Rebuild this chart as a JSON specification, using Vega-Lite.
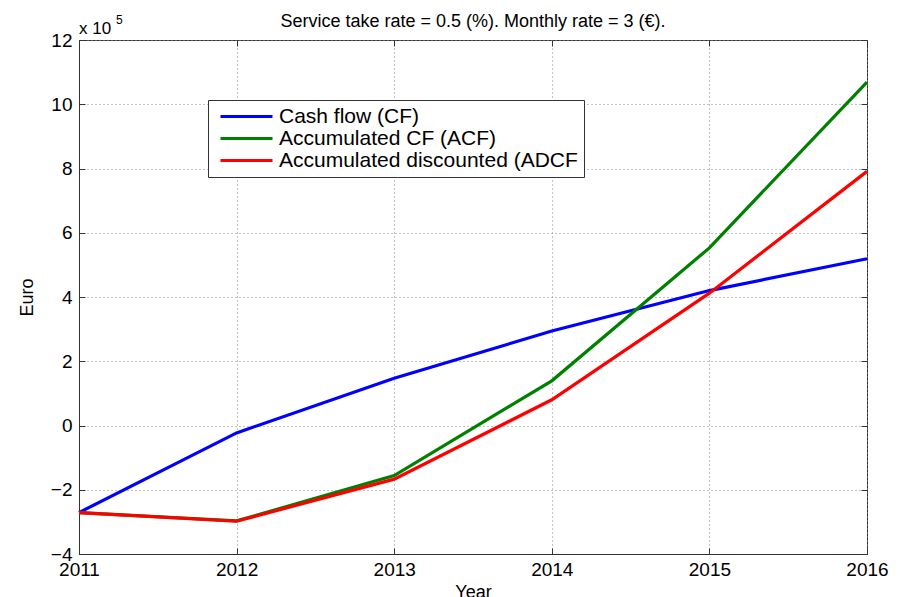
{
  "$schema": "https://vega.github.io/schema/vega-lite/v6.json",
  "width": 788,
  "height": 514,
  "autosize": {"type": "none"},
  "padding": {"left": 79, "top": 40, "right": 33, "bottom": 43},
  "background": "white",
  "config": {"view": {"stroke": "#333", "strokeWidth": 1}, "font": "Liberation Sans"},
  "title": {"text": "Service take rate = 0.5 (%). Monthly rate = 3 (€).", "fontSize": 18, "fontWeight": "normal", "font": "Liberation Sans", "color": "black", "anchor": "middle", "baseline": "alphabetic", "offset": 13, "dy": 44},
  "data": {"values": [
    {"year": 2011, "series": "Cash flow (CF)", "value": -2.71},
    {"year": 2012, "series": "Cash flow (CF)", "value": -0.23},
    {"year": 2013, "series": "Cash flow (CF)", "value": 1.47},
    {"year": 2014, "series": "Cash flow (CF)", "value": 2.94},
    {"year": 2015, "series": "Cash flow (CF)", "value": 4.2},
    {"year": 2016, "series": "Cash flow (CF)", "value": 5.19},
    {"year": 2011, "series": "Accumulated CF (ACF)", "value": -2.71},
    {"year": 2012, "series": "Accumulated CF (ACF)", "value": -2.97},
    {"year": 2013, "series": "Accumulated CF (ACF)", "value": -1.56},
    {"year": 2014, "series": "Accumulated CF (ACF)", "value": 1.39},
    {"year": 2015, "series": "Accumulated CF (ACF)", "value": 5.53},
    {"year": 2016, "series": "Accumulated CF (ACF)", "value": 10.69},
    {"year": 2011, "series": "Accumulated discounted (ADCF", "value": -2.71},
    {"year": 2012, "series": "Accumulated discounted (ADCF", "value": -2.98},
    {"year": 2013, "series": "Accumulated discounted (ADCF", "value": -1.67},
    {"year": 2014, "series": "Accumulated discounted (ADCF", "value": 0.8},
    {"year": 2015, "series": "Accumulated discounted (ADCF", "value": 4.12},
    {"year": 2016, "series": "Accumulated discounted (ADCF", "value": 7.91}
  ]},
  "layer": [
    {
      "mark": {"type": "line", "strokeWidth": 3.2},
      "encoding": {
        "x": {"field": "year", "type": "quantitative", "scale": {"domain": [2011, 2016], "nice": false, "zero": false},
          "axis": {"title": "Year", "values": [2011, 2012, 2013, 2014, 2015, 2016], "format": "d", "ticks": false, "grid": true, "gridDash": [1, 3], "gridColor": "#888", "gridOpacity": 1, "domainColor": "#333", "labelFontSize": 19, "labelColor": "black", "labelPadding": 6, "labelFlush": false, "titleFontSize": 18, "titleFontWeight": "normal", "titleColor": "black", "titlePadding": 4}},
        "y": {"field": "value", "type": "quantitative", "scale": {"domain": [-4, 12], "nice": false, "zero": false},
          "axis": {"title": "Euro", "values": [-4, -2, 0, 2, 4, 6, 8, 10, 12], "ticks": false, "grid": true, "gridDash": [1, 3], "gridColor": "#888", "gridOpacity": 1, "domainColor": "#333", "labelFontSize": 19, "labelColor": "black", "labelPadding": 7, "labelFlush": false, "titleFontSize": 18, "titleFontWeight": "normal", "titleColor": "black", "titlePadding": 14}},
        "color": {"field": "series", "type": "nominal",
          "scale": {"domain": ["Cash flow (CF)", "Accumulated CF (ACF)", "Accumulated discounted (ADCF"], "range": ["#0000ff", "#008000", "#ff0000"]},
          "legend": {"orient": "none", "legendX": 129, "legendY": 60, "title": null, "symbolType": "M-4,0H4", "symbolSize": 169, "symbolStrokeWidth": 3, "symbolOffset": 22, "labelOffset": 22, "labelFontSize": 21, "labelFont": "Liberation Sans", "labelColor": "black", "padding": 6, "fillColor": "white", "strokeColor": "#333", "rowPadding": 0, "labelLimit": 400}}
      }
    },
    {
      "data": {"values": [{"label": "x 10"}]},
      "mark": {"type": "text", "fontSize": 17, "align": "left", "baseline": "alphabetic", "dy": -6, "color": "black"},
      "encoding": {"text": {"field": "label"}, "x": {"datum": 2011, "type": "quantitative", "axis": null}, "y": {"datum": 12, "type": "quantitative", "axis": null}}
    },
    {
      "data": {"values": [{"label": "5"}]},
      "mark": {"type": "text", "fontSize": 12, "align": "left", "baseline": "alphabetic", "dx": 37, "dy": -16, "color": "black"},
      "encoding": {"text": {"field": "label"}, "x": {"datum": 2011, "type": "quantitative", "axis": null}, "y": {"datum": 12, "type": "quantitative", "axis": null}}
    },
    {
      "mark": {"type": "point", "opacity": 0},
      "encoding": {
        "x": {"field": "year", "type": "quantitative", "axis": {"orient": "bottom", "offset": -6, "labels": false, "domain": false, "grid": false, "ticks": true, "tickSize": 6, "tickColor": "#333", "title": null, "values": [2011, 2012, 2013, 2014, 2015, 2016]}},
        "y": {"field": "value", "type": "quantitative", "axis": {"orient": "left", "offset": -6, "labels": false, "domain": false, "grid": false, "ticks": true, "tickSize": 6, "tickColor": "#333", "title": null, "values": [-4, -2, 0, 2, 4, 6, 8, 10, 12]}}
      }
    },
    {
      "mark": {"type": "point", "opacity": 0},
      "encoding": {
        "x": {"field": "year", "type": "quantitative", "axis": {"orient": "top", "offset": -6, "labels": false, "domain": false, "grid": false, "ticks": true, "tickSize": 6, "tickColor": "#333", "title": null, "values": [2011, 2012, 2013, 2014, 2015, 2016]}},
        "y": {"field": "value", "type": "quantitative", "axis": {"orient": "right", "offset": -6, "labels": false, "domain": false, "grid": false, "ticks": true, "tickSize": 6, "tickColor": "#333", "title": null, "values": [-4, -2, 0, 2, 4, 6, 8, 10, 12]}}
      }
    }
  ],
  "resolve": {"axis": {"x": "independent", "y": "independent"}}
}
